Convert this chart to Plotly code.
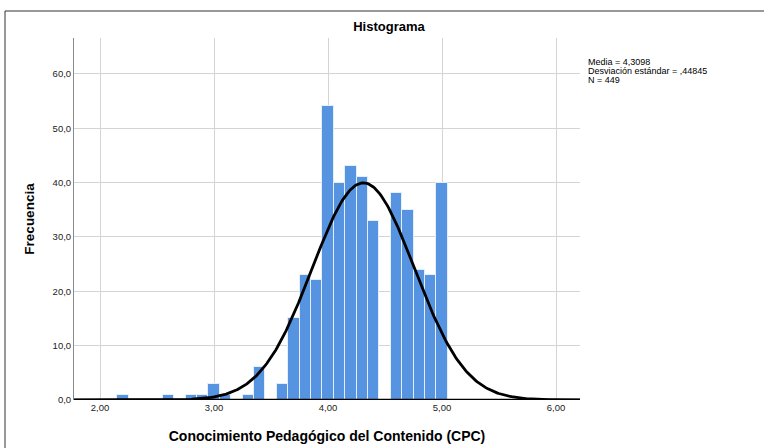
import numpy as np
import plotly.graph_objects as go

# Bin centers (width 0.1) and frequencies
bin_centers = [2.2, 2.6, 2.8, 2.9, 3.0, 3.1, 3.3, 3.4, 3.6, 3.7, 3.8, 3.9,
               4.0, 4.1, 4.2, 4.3, 4.4, 4.6, 4.7, 4.8, 4.9, 5.0]
frequencies = [1, 1, 1, 1, 3, 1, 1, 6, 3, 15, 23, 22,
               54, 40, 43, 41, 33, 38, 35, 24, 23, 40]
bin_width = 0.1

media = 4.3098
desv = 0.44845
n_total = 449

x_tickvals = [2, 3, 4, 5, 6]
x_ticktext = ["2,00", "3,00", "4,00", "5,00", "6,00"]
y_tickvals = [0, 10, 20, 30, 40, 50, 60]
y_ticktext = ["0,0", "10,0", "20,0", "30,0", "40,0", "50,0", "60,0"]
stats_lines = ["Media = 4,3098", "Desviación estándar = ,44845", "N = 449"]

FONT = "Liberation Sans, Arial, sans-serif"
x_range = [1.772, 6.21]
y_range = [0, 66.6]

L, R, T, B = 74, 184, 38, 48
PW, PH = 764 - L - R, 448 - T - B


def px_x(px):
    return (px - L) / PW


def px_y(py):
    return (448 - B - py) / PH


# Normal curve from the stated mean / sd / N
xc = np.linspace(x_range[0], x_range[1], 400)
yc = n_total * bin_width / (desv * np.sqrt(2 * np.pi)) * np.exp(-0.5 * ((xc - media) / desv) ** 2)

fig = go.Figure()
fig.add_trace(go.Bar(
    x=bin_centers, y=frequencies, width=bin_width,
    marker=dict(color="rgb(86,148,226)", line=dict(color="rgba(235,242,252,0.9)", width=1)),
    hoverinfo="x+y",
))
fig.add_trace(go.Scatter(
    x=xc, y=yc, mode="lines", line=dict(color="black", width=2.8), hoverinfo="skip",
))

fig.update_layout(
    width=764, height=448,
    margin=dict(l=L, r=R, t=T, b=B, autoexpand=False),
    paper_bgcolor="white", plot_bgcolor="white",
    showlegend=False,
    font=dict(family=FONT, color="black", size=10),
    title=dict(text="<b>Histograma</b>", x=389 / 764, xanchor="center",
               y=1 - 26 / 448, yanchor="middle", yref="container",
               font=dict(family=FONT, size=13, color="black")),
    bargap=0,
)
fig.update_xaxes(
    range=x_range, tickvals=x_tickvals, ticktext=x_ticktext, automargin=False,
    showgrid=True, gridcolor="#d4d4d4", gridwidth=1,
    zeroline=False, showline=False, ticks="", ticklen=0,
    tickfont=dict(size=9.5, family=FONT, color="#222"),
    title=dict(text="<b>Conocimiento Pedagógico del Contenido (CPC)</b>",
               font=dict(size=14, family=FONT, color="black"), standoff=19),
)
fig.update_yaxes(
    range=y_range, tickvals=y_tickvals, ticktext=y_ticktext, automargin=False,
    showgrid=True, gridcolor="#d4d4d4", gridwidth=1,
    zeroline=False, showline=True, linecolor="#8a8a8a", linewidth=1,
    ticks="", tickfont=dict(size=9.5, family=FONT, color="#222"),
    title=dict(text="<b>Frecuencia</b>",
               font=dict(size=13.5, family=FONT, color="black"), standoff=14),
)

# x-axis baseline (black, thick)
fig.add_shape(type="line", xref="paper", yref="y", x0=0, x1=1, y0=0, y1=0,
              line=dict(color="black", width=2.5), layer="above")

# outer frame lines (top and left)
fig.add_shape(type="line", xref="paper", yref="paper",
              x0=px_x(5), x1=px_x(770), y0=px_y(11), y1=px_y(11),
              line=dict(color="#333", width=1))
fig.add_shape(type="line", xref="paper", yref="paper",
              x0=px_x(5), x1=px_x(5), y0=px_y(11), y1=px_y(460),
              line=dict(color="#333", width=1))

for i, line in enumerate(stats_lines):
    fig.add_annotation(
        xref="paper", yref="paper", x=px_x(586), y=px_y(62 + 9 * i),
        xanchor="left", yanchor="middle", align="left", showarrow=False,
        text=line, font=dict(size=9, family=FONT, color="black"),
    )

fig.write_html(
    "out.html",
    config={"displayModeBar": False},
    post_script="document.body.style.margin='0';document.body.style.overflow='hidden';",
)
